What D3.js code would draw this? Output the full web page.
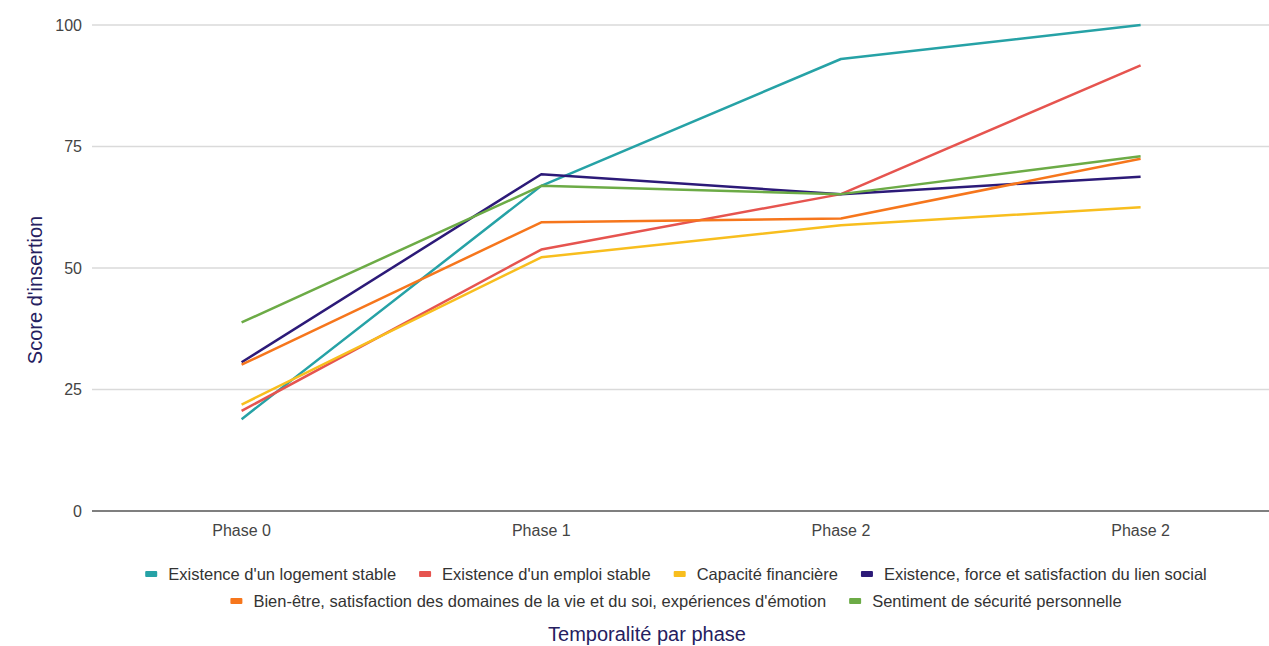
<!DOCTYPE html>
<html><head><meta charset="utf-8">
<script src="https://cdn.jsdelivr.net/npm/d3@7"></script>
<style>body{margin:0;background:#fff;overflow:hidden}svg{display:block;font-family:Arial,"Liberation Sans",sans-serif}</style>
</head><body>
<svg id="c" width="1269" height="646"></svg>
<script>
const phases = ["Phase 0", "Phase 1", "Phase 2", "Phase 2 "];
const phaseLabels = ["Phase 0", "Phase 1", "Phase 2", "Phase 2"];
const seriesNames = [
  "Existence d'un logement stable",
  "Existence d'un emploi stable",
  "Capacité financière",
  "Existence, force et satisfaction du lien social",
  "Bien-être, satisfaction des domaines de la vie et du soi, expériences d'émotion",
  "Sentiment de sécurité personnelle"
];
const logement = [18.9, 66.9, 93.0, 100];
const emploi = [20.6, 53.8, 65.2, 91.7];
const capacite = [21.9, 52.2, 58.8, 62.5];
const lienSocial = [30.6, 69.3, 65.2, 68.8];
const bienEtre = [30.1, 59.4, 60.2, 72.5];
const securite = [38.8, 66.9, 65.2, 73.0];
const yTicks = [0, 25, 50, 75, 100];
const colors = ["#26a2a6", "#e6544f", "#f8be1e", "#2c1a78", "#f6761c", "#6cab46"];

const seriesValues = [logement, emploi, capacite, lienSocial, bienEtre, securite];
const svg = d3.select("#c");
const plotLeft = 92, plotTop = 25, plotBottom = 511;

const x = d3.scalePoint().domain(phases).range([241.6, 1140.6]);
const y = d3.scaleLinear().domain([0, 100]).range([plotBottom, plotTop]);

// gridlines
svg.append("g").selectAll("line").data(yTicks.filter(d => d > 0)).join("line")
  .attr("x1", plotLeft).attr("x2", 1269)
  .attr("y1", d => y(d)).attr("y2", d => y(d))
  .attr("stroke", "#dadada").attr("stroke-width", 1.3);

// y tick labels
svg.append("g").selectAll("text").data(yTicks).join("text")
  .attr("x", 82).attr("y", d => y(d)).attr("dy", "0.35em")
  .attr("text-anchor", "end").attr("font-size", 16).attr("fill", "#444")
  .text(d => d);

// baseline
svg.append("line").attr("x1", plotLeft).attr("x2", 1269)
  .attr("y1", y(0)).attr("y2", y(0)).attr("stroke", "#555").attr("stroke-width", 1.5);

// x labels
svg.append("g").selectAll("text").data(phases).join("text")
  .attr("x", d => x(d)).attr("y", 530).attr("dy", "0.35em")
  .attr("text-anchor", "middle").attr("font-size", 16).attr("fill", "#444")
  .text((d, i) => phaseLabels[i]);

// lines
const line = d3.line().x((d, i) => x(phases[i])).y(d => y(d));
svg.append("g").selectAll("path").data(seriesValues).join("path")
  .attr("d", d => line(d)).attr("fill", "none")
  .attr("stroke", (d, i) => colors[i]).attr("stroke-width", 2.5)
  .attr("stroke-linejoin", "round");

// axis titles
svg.append("text").attr("transform", "translate(35,290) rotate(-90)")
  .attr("text-anchor", "middle").attr("dy", "0.35em").attr("font-size", 20).attr("fill", "#252060")
  .text("Score d'insertion");
svg.append("text").attr("x", 647).attr("y", 634).attr("dy", "0.35em")
  .attr("text-anchor", "middle").attr("font-size", 20).attr("fill", "#252060")
  .text("Temporalité par phase");

// legend
const rows = [[0, 1, 2, 3], [4, 5]];
const rowY = [574, 601];
const lg = svg.append("g");
rows.forEach((row, r) => {
  const g = lg.append("g");
  let cx = 0;
  row.forEach(i => {
    g.append("rect").attr("x", cx).attr("y", rowY[r] - 3).attr("width", 12).attr("height", 6)
      .attr("rx", 1).attr("fill", colors[i]);
    const t = g.append("text").attr("x", cx + 23).attr("y", rowY[r]).attr("dy", "0.35em")
      .attr("font-size", 16.5).attr("fill", "#333").text(seriesNames[i]);
    cx += 23 + t.node().getComputedTextLength() + 23;
  });
  const w = cx - 23;
  g.attr("transform", `translate(${676 - w / 2},0)`);
});
</script>
</body></html>
